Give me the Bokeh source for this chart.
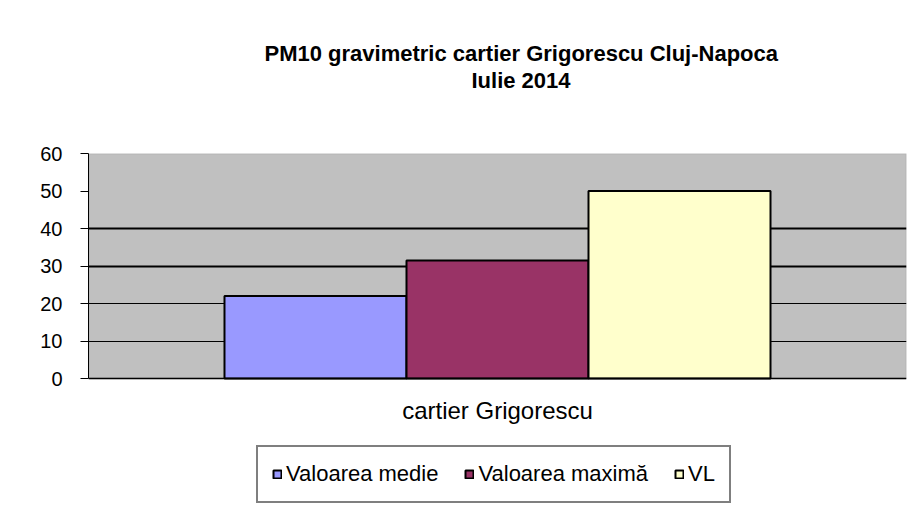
from bokeh.plotting import figure
from bokeh.models import (ColumnDataSource, FactorRange, Range1d, Title, Legend,
                          LegendItem, FixedTicker, Grid, BoxAnnotation, Span)
from bokeh.transform import dodge
from bokeh.core.properties import value
from bokeh.embed import file_html
from bokeh.resources import INLINE

# ---- data ----
categories = ["cartier Grigorescu"]
series = ["Valoarea medie", "Valoarea maximă", "VL"]
values = [22, 31.5, 50]
colors = ["#9999FF", "#993366", "#FFFFCC"]
y_ticks = [0, 10, 20, 30, 40, 50, 60]
y_min, y_max = 0, 60
thin_grid = [10, 20]
thick_grid = [30, 40]
title_line1 = "PM10 gravimetric cartier Grigorescu Cluj-Napoca"
title_line2 = "Iulie 2014"

# ---- layout constants (pixels) ----
FONT = "Liberation Sans"
BAR_W = 0.2225
PLOT_PX = 225      # height of the grey plot area
BELOW_PX = 127     # space under the plot area (category label + legend)
LABEL_GAP_PX = 18  # gap between axis and category label
px_per_unit = PLOT_PX / (y_max - y_min)
range_bottom = y_min - BELOW_PX / px_per_unit

p = figure(frame_width=818, frame_height=PLOT_PX + BELOW_PX, width=912, height=505,
           x_range=FactorRange(*categories, range_padding=0),
           y_range=Range1d(range_bottom, y_max),
           x_axis_location=None,
           output_backend="svg", toolbar_location=None, title=None,
           min_border_left=88, min_border_right=6,
           min_border_top=153, min_border_bottom=0)

p.border_fill_color = "#FFFFFF"
p.background_fill_color = "#FFFFFF"
p.outline_line_color = None
p.xgrid.visible = False
p.ygrid.visible = False

# grey plot area
plot_area = BoxAnnotation(bottom=y_min, top=y_max, fill_color="#C0C0C0", fill_alpha=1,
                          line_color="#808080", line_width=1.5, level="image")
p.add_layout(plot_area)

# grids
g1 = Grid(dimension=1, ticker=FixedTicker(ticks=thin_grid),
          grid_line_color="black", grid_line_width=1)
g2 = Grid(dimension=1, ticker=FixedTicker(ticks=thick_grid),
          grid_line_color="black", grid_line_width=2)
p.add_layout(g1)
p.add_layout(g2)

# bars
offsets = [(i - (len(series) - 1) / 2) * BAR_W for i in range(len(series))]
items = []
for s, v, c, off in zip(series, values, colors, offsets):
    src = ColumnDataSource(dict(x=categories, top=[v]))
    r = p.vbar(x=dodge("x", off, range=p.x_range), top="top", bottom=y_min, width=BAR_W,
               source=src, fill_color=c, line_color="black", line_width=2)
    items.append(LegendItem(label=s, renderers=[r]))

# x axis line
p.add_layout(Span(location=y_min, dimension="width", line_color="black", line_width=1.5))

# category label
p.text(x=categories, y=[y_min - LABEL_GAP_PX / px_per_unit], text=categories,
       text_align="center", text_baseline="top",
       text_font=value(FONT), text_font_size="24px", text_color="black")

# y axis
p.yaxis.bounds = (y_min, y_max)
p.yaxis.ticker = FixedTicker(ticks=y_ticks)
p.yaxis.major_label_text_font = FONT
p.yaxis.major_label_text_font_size = "20px"
p.yaxis.major_label_text_color = "black"
p.yaxis.axis_line_color = "black"
p.yaxis.major_tick_line_color = "black"
p.yaxis.major_tick_out = 8
p.yaxis.major_tick_in = 0
p.yaxis.minor_tick_line_color = None
p.yaxis.major_label_standoff = 18

# legend (screen px from the frame's bottom-left)
legend = Legend(items=items, orientation="horizontal", location=(168, 2),
                label_text_font=FONT, label_text_font_size="22px",
                label_text_color="black",
                glyph_width=10, glyph_height=10, label_standoff=4,
                spacing=26, padding=14, margin=0,
                border_line_color="black", border_line_width=2,
                background_fill_color="white", background_fill_alpha=1)
p.add_layout(legend, "center")

# titles: spacer nearest the frame, then line 2, then line 1
spacer = Title(text=" ", text_font_size="1px", standoff=58)
t2 = Title(text=title_line2, align="left", offset=383, standoff=0,
           text_font=FONT, text_font_size="22px", text_font_style="bold",
           text_color="black")
t1 = Title(text=title_line1, align="left", offset=176, standoff=0,
           text_font=FONT, text_font_size="22px", text_font_style="bold",
           text_color="black")
p.add_layout(spacer, "above")
p.add_layout(t2, "above")
p.add_layout(t1, "above")

open("out.html", "w").write(file_html(p, INLINE))
